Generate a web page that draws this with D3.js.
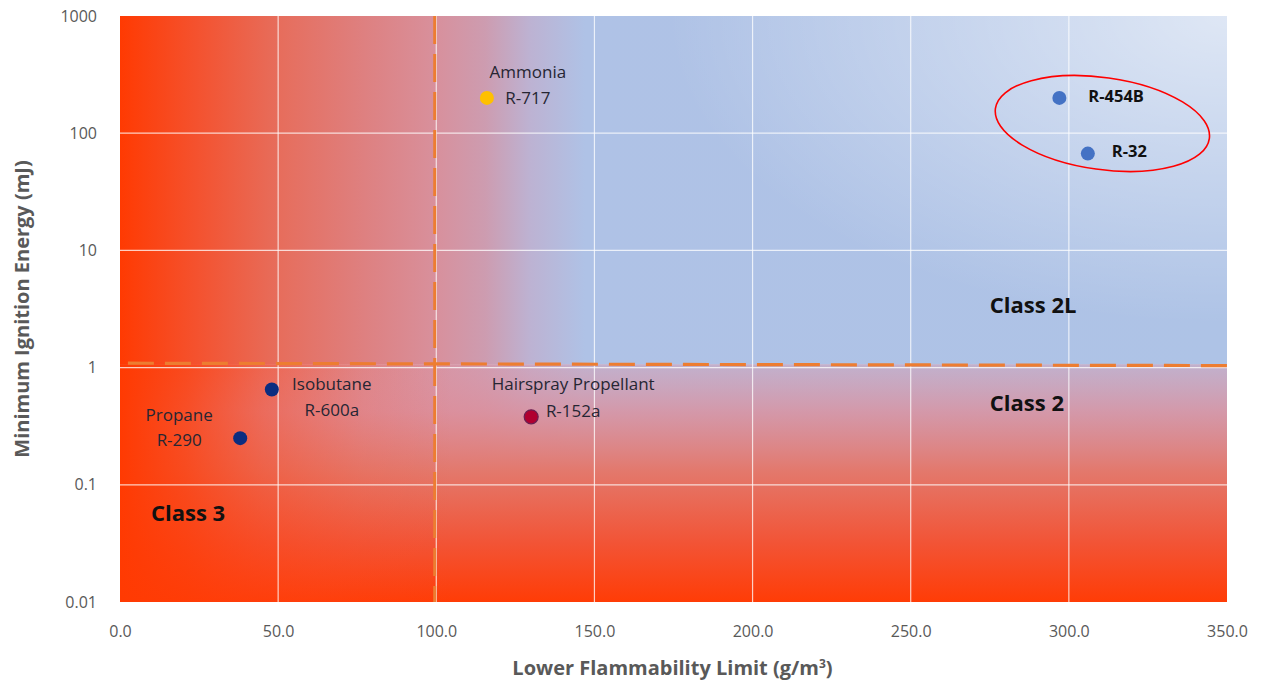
<!DOCTYPE html>
<html>
<head>
<meta charset="utf-8">
<script src="https://cdn.jsdelivr.net/npm/d3@7"></script>
<style>
  html, body { margin: 0; padding: 0; background: #ffffff; }
  svg { display: block; }
  text { font-family: "Open Sans", "DejaVu Sans", sans-serif; }
</style>
</head>
<body>
<svg id="chart" width="1266" height="681"></svg>
<script>
// ---------------- data ----------------
const xTicks = [0, 50, 100, 150, 200, 250, 300, 350];
const yTicks = [0.01, 0.1, 1, 10, 100, 1000];
const yTickLabels = ["0.01", "0.1", "1", "10", "100", "1000"];

const substanceNames = ["Propane", "Isobutane", "Ammonia", "Hairspray Propellant", "", ""];
const refrigerantCodes = ["R-290", "R-600a", "R-717", "R-152a", "R-454B", "R-32"];
const lowerFlammabilityLimit = [38, 48, 116, 130, 297, 306];   // g/m3
const minIgnitionEnergy = [0.25, 0.65, 200, 0.38, 200, 67];      // mJ

const classNames = ["Class 2L", "Class 2", "Class 3"];
const classLfl = [275, 275, 9.8];
const classMie = [2.95, 0.43, 0.0495];

const boundaryLfl = 99.5;                 // vertical dashed boundary
const boundaryMieLine = [[2.5, 1.09], [350, 1.04]]; // horizontal dashed boundary

// ---------------- layout ----------------
const W = 1266, H = 681;
const margin = { left: 120, right: 39, top: 16, bottom: 79 };
const iw = W - margin.left - margin.right;
const ih = H - margin.top - margin.bottom;

const svg = d3.select("#chart");
const defs = svg.append("defs");

const x = d3.scaleLinear().domain([0, 350]).range([0, iw]);
const y = d3.scaleLog().domain([0.01, 1000]).range([ih, 0]);

const g = svg.append("g").attr("transform", `translate(${margin.left},${margin.top})`);

// ---------------- background gradients ----------------
function linGrad(id, x1, y1, x2, y2, stops) {
  const lg = defs.append("linearGradient").attr("id", id)
    .attr("gradientUnits", "userSpaceOnUse")
    .attr("x1", x1).attr("y1", y1).attr("x2", x2).attr("y2", y2);
  stops.forEach(s => lg.append("stop").attr("offset", s[0]).attr("stop-color", s[1])
    .attr("stop-opacity", s[2] === undefined ? 1 : s[2]));
}

const splitY = y(1.07);

linGrad("hgrad", 0, 0, iw, 0, [
  [0, "#ff3a02"], [0.07, "#f4522f"], [0.14, "#e76c5a"], [0.22, "#de8080"],
  [0.285, "#d8909c"], [0.33, "#cd9cb0"], [0.37, "#bdb2d2"], [0.42, "#afc2e6"],
  [1, "#aec3e6"]
]);
linGrad("vgradLow", 0, splitY, 0, ih, [
  [0, "#d89aad", 0.45], [0.2, "#dc8f9c", 0.82], [0.45, "#e3786c", 1],
  [0.75, "#f25436", 1], [1, "#ff3c06", 1]
]);
linGrad("leftRed", 0, 0, iw, 0, [
  [0, "#ff3a02", 1], [0.06, "#ff3c06", 0.75], [0.13, "#ff4010", 0.4],
  [0.22, "#ff4a20", 0.12], [0.3, "#ff5030", 0]
]);

const rg = defs.append("radialGradient").attr("id", "tr")
  .attr("gradientUnits", "userSpaceOnUse")
  .attr("cx", iw).attr("cy", 0).attr("r", 560)
  .attr("gradientTransform", `translate(${iw},0) scale(1,0.55) translate(${-iw},0)`);
rg.append("stop").attr("offset", 0).attr("stop-color", "#ffffff").attr("stop-opacity", 0.6);
rg.append("stop").attr("offset", 0.5).attr("stop-color", "#ffffff").attr("stop-opacity", 0.3);
rg.append("stop").attr("offset", 1).attr("stop-color", "#ffffff").attr("stop-opacity", 0);

const bg = g.append("g");
// upper
bg.append("rect").attr("x", 0).attr("y", 0).attr("width", iw).attr("height", splitY).attr("fill", "url(#hgrad)");
bg.append("rect").attr("x", 0).attr("y", 0).attr("width", iw).attr("height", splitY).attr("fill", "url(#tr)");
// lower
bg.append("rect").attr("x", 0).attr("y", splitY).attr("width", iw).attr("height", ih - splitY).attr("fill", "url(#hgrad)");
bg.append("rect").attr("x", 0).attr("y", splitY).attr("width", iw).attr("height", ih - splitY).attr("fill", "url(#vgradLow)");
bg.append("rect").attr("x", 0).attr("y", splitY).attr("width", iw).attr("height", ih - splitY).attr("fill", "url(#leftRed)");

// ---------------- gridlines ----------------
const grid = g.append("g");
grid.selectAll("line.vx").data(xTicks.filter(d => d > 0 && d < 350)).join("line")
  .attr("x1", d => x(d)).attr("x2", d => x(d)).attr("y1", 0).attr("y2", ih)
  .attr("stroke", "#ffffff").attr("stroke-opacity", 0.75).attr("stroke-width", 1.2);
grid.selectAll("line.hy").data(yTicks.filter(d => d > 0.01 && d < 1000)).join("line")
  .attr("x1", 0).attr("x2", iw).attr("y1", d => y(d)).attr("y2", d => y(d))
  .attr("stroke", "#ffffff").attr("stroke-opacity", 0.75).attr("stroke-width", 1.2);

// ---------------- boundaries ----------------
const orange = "#ed7d31";
g.append("line")
  .attr("x1", x(boundaryLfl)).attr("x2", x(boundaryLfl))
  .attr("y1", y(1000)).attr("y2", y(0.01))
  .attr("stroke", orange).attr("stroke-width", 3).attr("stroke-dasharray", "28,10");
g.append("path")
  .attr("d", d3.line().x(d => x(d[0])).y(d => y(d[1]))(boundaryMieLine))
  .attr("stroke", orange).attr("stroke-width", 3.2).attr("fill", "none")
  .attr("stroke-dasharray", "26,11");

// ---------------- axes ----------------
const axisColor = "#595959";
const xAxis = g.append("g").attr("transform", `translate(0,${ih})`)
  .call(d3.axisBottom(x).tickValues(xTicks).tickFormat(d3.format(".1f")).tickSize(0).tickPadding(24));
xAxis.select(".domain").remove();
xAxis.selectAll("text").attr("fill", axisColor).style("font-size", "16px");

const yAxis = g.append("g")
  .call(d3.axisLeft(y).tickValues(yTicks).tickFormat((d, i) => yTickLabels[i]).tickSize(0).tickPadding(23));
yAxis.select(".domain").remove();
yAxis.selectAll("text").attr("fill", axisColor).style("font-size", "16px");

svg.append("text")
  .attr("x", margin.left + x(175) - 1).attr("y", 675)
  .attr("text-anchor", "middle").attr("fill", axisColor)
  .style("font-size", "20px").style("font-weight", "bold")
  .html('Lower Flammability Limit (g/m<tspan dy="-7" style="font-size:12px">3</tspan><tspan dy="7">)</tspan>');

svg.append("text")
  .attr("transform", `translate(29,${margin.top + ih / 2}) rotate(-90)`)
  .attr("text-anchor", "middle").attr("fill", axisColor)
  .style("font-size", "20px").style("font-weight", "bold")
  .text("Minimum Ignition Energy (mJ)");

// ---------------- class labels ----------------
g.selectAll("text.cls").data(classNames).join("text")
  .attr("class", "cls")
  .attr("x", (d, i) => x(classLfl[i])).attr("y", (d, i) => y(classMie[i]))
  .attr("fill", "#111111").style("font-size", "22px").style("font-weight", "bold")
  .text(d => d);

// ---------------- ellipse annotation ----------------
const ex = x(310.6), ey = y(121);
g.append("ellipse")
  .attr("cx", 0).attr("cy", 0).attr("rx", 108).attr("ry", 46)
  .attr("transform", `translate(${ex},${ey}) rotate(8)`)
  .attr("fill", "none").attr("stroke", "#ff0000").attr("stroke-width", 1.6);

// ---------------- points ----------------
const pointColors = { "R-290": "#0b2d80", "R-600a": "#0b2d80", "R-717": "#ffc000", "R-152a": "#b00030", "R-454B": "#4472c4", "R-32": "#4472c4" };
const pointStroke = { "R-152a": "#6a1f52" };
const pts = refrigerantCodes.map((c, i) => ({ code: c, name: substanceNames[i], lfl: lowerFlammabilityLimit[i], mie: minIgnitionEnergy[i] }));

g.selectAll("circle.pt").data(pts).join("circle")
  .attr("class", "pt")
  .attr("cx", d => x(d.lfl)).attr("cy", d => y(d.mie)).attr("r", 7)
  .attr("fill", d => pointColors[d.code])
  .attr("stroke", d => pointStroke[d.code] || "none").attr("stroke-width", 1.2);

// label placement (pixel offsets from point)
const labelPlace = {
  "R-290": { dx: -61, dy1: -17, dy2: 8, anchor: "middle" },
  "R-600a": { dx: 60, dy1: 0, dy2: 26, anchor: "middle" },
  "R-717": { dx: 41, dy1: -20, dy2: 6, anchor: "middle" },
  "R-152a": { dx: 42, dy1: -27, dy2: 0, anchor: "middle" },
  "R-454B": { dx: 29, dy1: null, dy2: 4, anchor: "start", bold: true },
  "R-32": { dx: 24, dy1: null, dy2: 3, anchor: "start", bold: true }
};

pts.forEach(d => {
  const p = labelPlace[d.code];
  const px = x(d.lfl), py = y(d.mie);
  if (d.name && p.dy1 !== null) {
    g.append("text").attr("x", px + p.dx).attr("y", py + p.dy1)
      .attr("text-anchor", p.anchor).attr("fill", "#262633")
      .style("font-size", "17px").text(d.name);
  }
  g.append("text").attr("x", px + p.dx).attr("y", py + p.dy2)
    .attr("text-anchor", p.anchor).attr("fill", p.bold ? "#111111" : "#262633")
    .style("font-size", p.bold ? "16.5px" : "17px").style("font-weight", p.bold ? "bold" : "normal")
    .text(d.code);
});
</script>
</body>
</html>
